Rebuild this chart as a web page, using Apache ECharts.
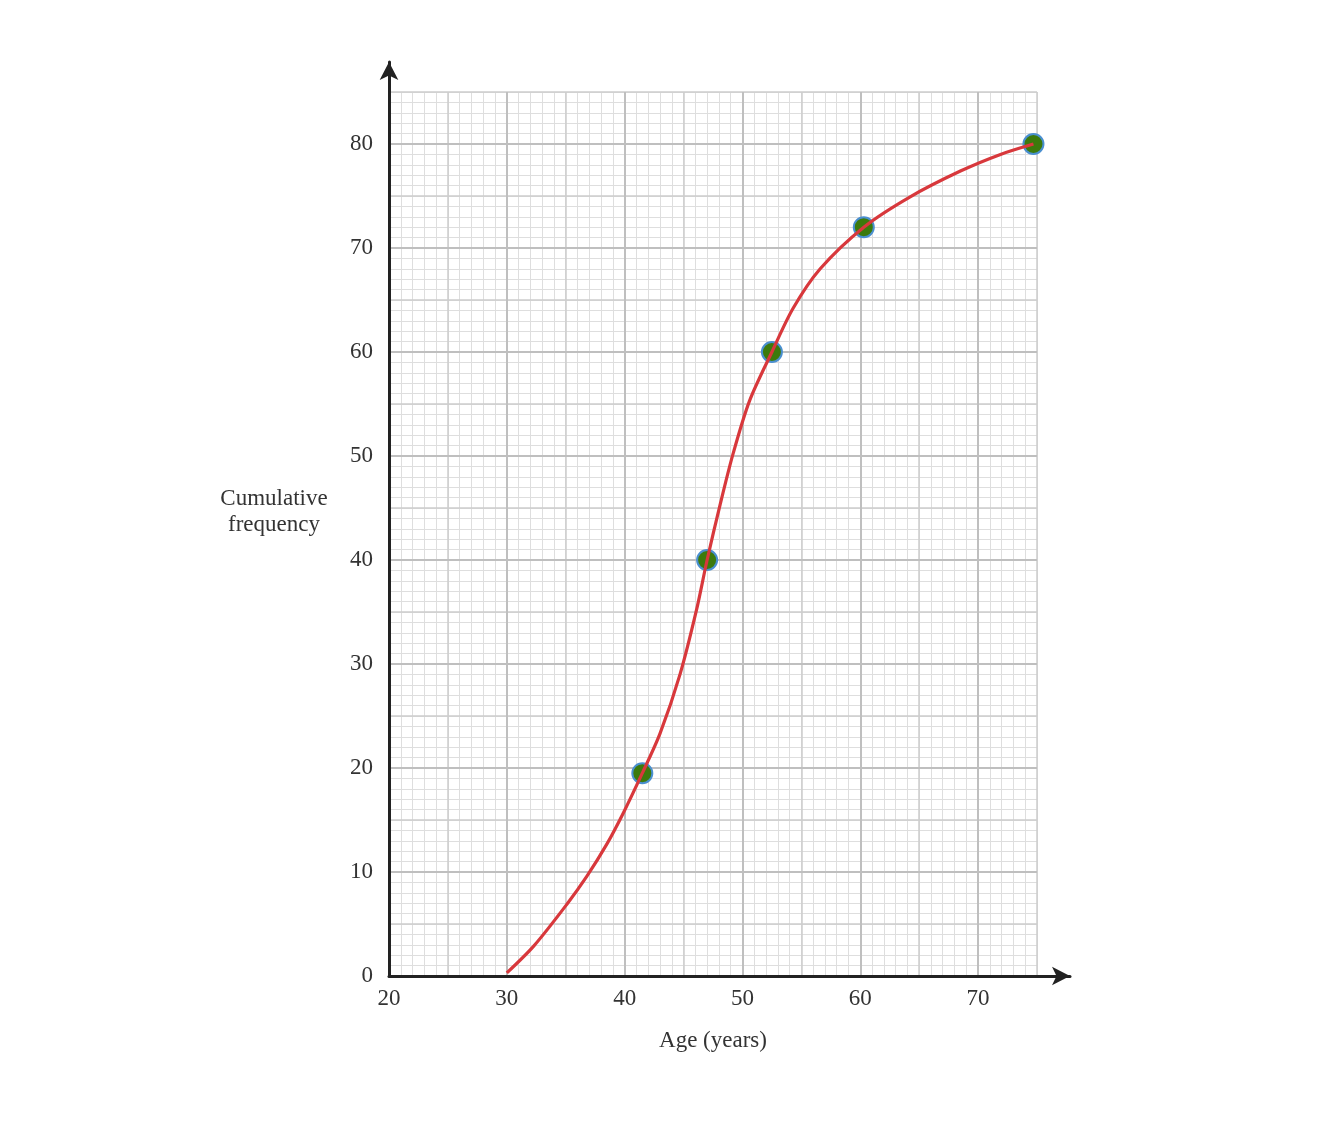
<!DOCTYPE html>
<html>
<head>
<meta charset="utf-8">
<script src="https://cdn.jsdelivr.net/npm/echarts@6/dist/echarts.min.js"></script>
<style>
  html, body { margin: 0; padding: 0; background: #fff; }
  #chart { width: 1322px; height: 1127px; }
</style>
</head>
<body>
<div id="chart"></div>
<script>
// plotted points (age, cumulative frequency)
var ages = [41.5, 47, 52.5, 60.3, 74.7];
var cumFreq = [19.5, 40, 60, 72, 80];

// the hand-drawn curve
var curveAges = [30, 32.3, 35.1, 36.8, 38.5, 39.9, 41.5, 43.0, 44.7, 46.1, 47, 48.1, 49.2, 50.6, 52.5, 54.3, 56.6, 60.3, 64.2, 68.5, 71.9, 74.7];
var curveFreq = [0.3, 2.9, 6.9, 9.6, 12.7, 15.7, 19.5, 23.3, 29.0, 35.2, 40, 45.3, 50.2, 55.3, 60, 64.2, 68.0, 72, 74.9, 77.4, 79.0, 80];

var xMin = 20, xMax = 75;
var yMin = 0, yMax = 85;

var FONT = "Liberation Serif";
var TEXT_COLOR = "#333";
var FONT_SIZE = 23;

var points = ages.map(function (a, i) { return [a, cumFreq[i]]; });
var curve = curveAges.map(function (a, i) { return [a, curveFreq[i]]; });

// helper: an axis that only draws split lines
function gridAxis(kind, interval, color, width, z, extra) {
    var ax = {
        type: "value",
        gridIndex: 0,
        position: kind === "x" ? "bottom" : "left",
        z: z,
        min: kind === "x" ? xMin : yMin,
        max: kind === "x" ? xMax : yMax,
        interval: interval,
        axisLine: { show: false },
        axisTick: { show: false },
        axisLabel: { show: false },
        splitLine: { show: true, lineStyle: { color: color, width: width } }
    };
    if (extra) {
        for (var k in extra) ax[k] = extra[k];
    }
    return ax;
}

function labelFmt(v) {
    return v % 10 === 0 ? String(v) : "";
}

var arrowAxis = {
    type: "value", gridIndex: 1, min: 0, max: 1, z: 5,
    axisLine: { show: true, onZero: false, symbol: ["none", "arrow"], symbolSize: [14, 18],
        lineStyle: { color: "#222", width: 3 } },
    axisTick: { show: false }, axisLabel: { show: false }, splitLine: { show: false }
};

var chart = echarts.init(document.getElementById("chart"));

var option = {
    backgroundColor: "#fff",
    animation: false,
    title: {
        text: "Cumulative\nfrequency",
        left: 269,
        top: 481,
        textAlign: "center",
        textStyle: {
            fontFamily: FONT,
            fontSize: FONT_SIZE,
            fontWeight: "normal",
            color: TEXT_COLOR,
            lineHeight: 26
        }
    },
    grid: [
        { left: 389, top: 92, width: 648, height: 884 },
        { left: 389, top: 62, width: 681, height: 914 }
    ],
    xAxis: [
        gridAxis("x", 10, "#bfbfbf", 2, 3, {
            name: "Age (years)",
            nameLocation: "middle",
            nameGap: 53,
            nameTextStyle: { fontFamily: FONT, fontSize: FONT_SIZE, color: TEXT_COLOR },
            splitLine: { show: true, showMaxLine: false, lineStyle: { color: "#bfbfbf", width: 2 } },
            axisLabel: {
                show: true, showMaxLabel: false, margin: 11, formatter: labelFmt,
                fontFamily: FONT, fontSize: FONT_SIZE, color: TEXT_COLOR
            }
        }),
        gridAxis("x", 5, "#cdcdcd", 1.5, 2),
        gridAxis("x", 1, "#dedede", 1, 1),
        arrowAxis
    ],
    yAxis: [
        gridAxis("y", 10, "#bfbfbf", 2, 3, {
            splitLine: { show: true, showMaxLine: false, lineStyle: { color: "#bfbfbf", width: 2 } },
            axisLabel: {
                show: true, showMaxLabel: false, margin: 16, formatter: labelFmt,
                fontFamily: FONT, fontSize: FONT_SIZE, color: TEXT_COLOR
            }
        }),
        gridAxis("y", 5, "#cdcdcd", 1.5, 2),
        gridAxis("y", 1, "#dedede", 1, 1),
        arrowAxis
    ],
    series: [
        {
            type: "scatter",
            data: points,
            symbolSize: 20,
            z: 3,
            itemStyle: { color: "#3c7a0c", borderColor: "#4a8fd0", borderWidth: 2, opacity: 1 }
        },
        {
            type: "line",
            data: curve,
            smooth: 0.3,
            showSymbol: false,
            z: 4,
            lineStyle: { color: "#d8383c", width: 3.2 }
        }
    ]
};

chart.setOption(option);
</script>
</body>
</html>
